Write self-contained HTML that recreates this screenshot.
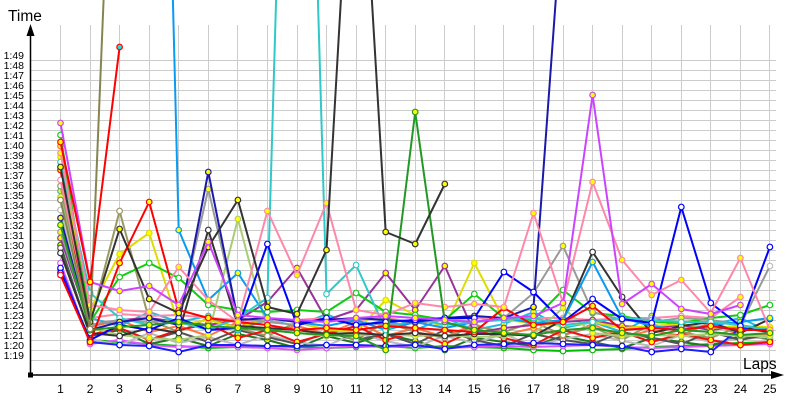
<!DOCTYPE html>
<html><head><meta charset="utf-8"><style>
html,body{margin:0;padding:0;background:#fff;}
svg{display:block;}
text{font-family:"Liberation Sans",Arial,sans-serif;fill:#000;}
.yl{font-size:10.5px;text-anchor:end;}
.xl{font-size:12px;text-anchor:middle;}
polyline{fill:none;stroke-width:2;stroke-linejoin:round;}
</style></head><body>
<svg width="800" height="400" viewBox="0 0 800 400" xmlns="http://www.w3.org/2000/svg">
<defs>
<marker id="mRy" viewBox="0 0 8 8" refX="4" refY="4" markerWidth="8" markerHeight="8" markerUnits="userSpaceOnUse"><circle cx="4" cy="4" r="2.8" fill="#ffff00" stroke="#ff0000" stroke-width="1.2"/></marker>
<marker id="mRc" viewBox="0 0 8 8" refX="4" refY="4" markerWidth="8" markerHeight="8" markerUnits="userSpaceOnUse"><circle cx="4" cy="4" r="2.8" fill="#22dddd" stroke="#ff0000" stroke-width="1.2"/></marker>
<marker id="mRw" viewBox="0 0 8 8" refX="4" refY="4" markerWidth="8" markerHeight="8" markerUnits="userSpaceOnUse"><circle cx="4" cy="4" r="2.8" fill="#fff" stroke="#ff0000" stroke-width="1.2"/></marker>
<marker id="mOl" viewBox="0 0 8 8" refX="4" refY="4" markerWidth="8" markerHeight="8" markerUnits="userSpaceOnUse"><circle cx="4" cy="4" r="2.8" fill="#fff" stroke="#858550" stroke-width="1.2"/></marker>
<marker id="mLb" viewBox="0 0 8 8" refX="4" refY="4" markerWidth="8" markerHeight="8" markerUnits="userSpaceOnUse"><circle cx="4" cy="4" r="2.8" fill="#ffff00" stroke="#0a9af0" stroke-width="1.2"/></marker>
<marker id="mCy" viewBox="0 0 8 8" refX="4" refY="4" markerWidth="8" markerHeight="8" markerUnits="userSpaceOnUse"><circle cx="4" cy="4" r="2.8" fill="#fff" stroke="#30c8c8" stroke-width="1.2"/></marker>
<marker id="mBky" viewBox="0 0 8 8" refX="4" refY="4" markerWidth="8" markerHeight="8" markerUnits="userSpaceOnUse"><circle cx="4" cy="4" r="2.8" fill="#ffff00" stroke="#333" stroke-width="1.2"/></marker>
<marker id="mBkw" viewBox="0 0 8 8" refX="4" refY="4" markerWidth="8" markerHeight="8" markerUnits="userSpaceOnUse"><circle cx="4" cy="4" r="2.8" fill="#fff" stroke="#333" stroke-width="1.2"/></marker>
<marker id="mFo" viewBox="0 0 8 8" refX="4" refY="4" markerWidth="8" markerHeight="8" markerUnits="userSpaceOnUse"><circle cx="4" cy="4" r="2.8" fill="#ffff00" stroke="#229922" stroke-width="1.2"/></marker>
<marker id="mMg" viewBox="0 0 8 8" refX="4" refY="4" markerWidth="8" markerHeight="8" markerUnits="userSpaceOnUse"><circle cx="4" cy="4" r="2.8" fill="#ffff00" stroke="#cc44ff" stroke-width="1.2"/></marker>
<marker id="mPk" viewBox="0 0 8 8" refX="4" refY="4" markerWidth="8" markerHeight="8" markerUnits="userSpaceOnUse"><circle cx="4" cy="4" r="2.8" fill="#ffff00" stroke="#ff88aa" stroke-width="1.2"/></marker>
<marker id="mPk2" viewBox="0 0 8 8" refX="4" refY="4" markerWidth="8" markerHeight="8" markerUnits="userSpaceOnUse"><circle cx="4" cy="4" r="2.8" fill="#fff" stroke="#ff88aa" stroke-width="1.2"/></marker>
<marker id="mBl" viewBox="0 0 8 8" refX="4" refY="4" markerWidth="8" markerHeight="8" markerUnits="userSpaceOnUse"><circle cx="4" cy="4" r="2.8" fill="#fff" stroke="#0000ff" stroke-width="1.2"/></marker>
<marker id="mNv" viewBox="0 0 8 8" refX="4" refY="4" markerWidth="8" markerHeight="8" markerUnits="userSpaceOnUse"><circle cx="4" cy="4" r="2.8" fill="#ffff00" stroke="#1a1aaa" stroke-width="1.2"/></marker>
<marker id="mGy" viewBox="0 0 8 8" refX="4" refY="4" markerWidth="8" markerHeight="8" markerUnits="userSpaceOnUse"><circle cx="4" cy="4" r="2.8" fill="#ffff00" stroke="#999" stroke-width="1.2"/></marker>
<marker id="mPu" viewBox="0 0 8 8" refX="4" refY="4" markerWidth="8" markerHeight="8" markerUnits="userSpaceOnUse"><circle cx="4" cy="4" r="2.8" fill="#ffff00" stroke="#993399" stroke-width="1.2"/></marker>
<marker id="mYe" viewBox="0 0 8 8" refX="4" refY="4" markerWidth="8" markerHeight="8" markerUnits="userSpaceOnUse"><circle cx="4" cy="4" r="2.8" fill="#ffff00" stroke="#dddd00" stroke-width="1.2"/></marker>
<marker id="mYg" viewBox="0 0 8 8" refX="4" refY="4" markerWidth="8" markerHeight="8" markerUnits="userSpaceOnUse"><circle cx="4" cy="4" r="2.8" fill="#ffff00" stroke="#aacc77" stroke-width="1.2"/></marker>
<marker id="mGr" viewBox="0 0 8 8" refX="4" refY="4" markerWidth="8" markerHeight="8" markerUnits="userSpaceOnUse"><circle cx="4" cy="4" r="2.8" fill="#fff" stroke="#11cc11" stroke-width="1.2"/></marker>
<marker id="mGr2" viewBox="0 0 8 8" refX="4" refY="4" markerWidth="8" markerHeight="8" markerUnits="userSpaceOnUse"><circle cx="4" cy="4" r="2.8" fill="#fff" stroke="#00bb00" stroke-width="1.2"/></marker>
<marker id="mMg2" viewBox="0 0 8 8" refX="4" refY="4" markerWidth="8" markerHeight="8" markerUnits="userSpaceOnUse"><circle cx="4" cy="4" r="2.8" fill="#fff" stroke="#dd55ff" stroke-width="1.2"/></marker>
<marker id="mDg" viewBox="0 0 8 8" refX="4" refY="4" markerWidth="8" markerHeight="8" markerUnits="userSpaceOnUse"><circle cx="4" cy="4" r="2.8" fill="#ffff00" stroke="#227722" stroke-width="1.2"/></marker>
<marker id="mSv" viewBox="0 0 8 8" refX="4" refY="4" markerWidth="8" markerHeight="8" markerUnits="userSpaceOnUse"><circle cx="4" cy="4" r="2.8" fill="#fff" stroke="#bbbbbb" stroke-width="1.2"/></marker>
<marker id="mKh" viewBox="0 0 8 8" refX="4" refY="4" markerWidth="8" markerHeight="8" markerUnits="userSpaceOnUse"><circle cx="4" cy="4" r="2.8" fill="#fff" stroke="#999966" stroke-width="1.2"/></marker>
<marker id="mTe" viewBox="0 0 8 8" refX="4" refY="4" markerWidth="8" markerHeight="8" markerUnits="userSpaceOnUse"><circle cx="4" cy="4" r="2.8" fill="#ffff00" stroke="#22bbdd" stroke-width="1.2"/></marker>
<marker id="mOr" viewBox="0 0 8 8" refX="4" refY="4" markerWidth="8" markerHeight="8" markerUnits="userSpaceOnUse"><circle cx="4" cy="4" r="2.8" fill="#ffff00" stroke="#ff7744" stroke-width="1.2"/></marker>
<marker id="mDk" viewBox="0 0 8 8" refX="4" refY="4" markerWidth="8" markerHeight="8" markerUnits="userSpaceOnUse"><circle cx="4" cy="4" r="2.8" fill="#fff" stroke="#555" stroke-width="1.2"/></marker>
</defs>

<!-- grid -->
<g stroke="#cccccc" stroke-width="1">
<line x1="60.5" y1="25" x2="60.5" y2="375"/><line x1="90.5" y1="25" x2="90.5" y2="375"/><line x1="119.5" y1="25" x2="119.5" y2="375"/><line x1="149.5" y1="25" x2="149.5" y2="375"/><line x1="178.5" y1="25" x2="178.5" y2="375"/><line x1="208.5" y1="25" x2="208.5" y2="375"/><line x1="237.5" y1="25" x2="237.5" y2="375"/><line x1="267.5" y1="25" x2="267.5" y2="375"/><line x1="297.5" y1="25" x2="297.5" y2="375"/><line x1="326.5" y1="25" x2="326.5" y2="375"/><line x1="356.5" y1="25" x2="356.5" y2="375"/><line x1="385.5" y1="25" x2="385.5" y2="375"/><line x1="415.5" y1="25" x2="415.5" y2="375"/><line x1="444.5" y1="25" x2="444.5" y2="375"/><line x1="474.5" y1="25" x2="474.5" y2="375"/><line x1="503.5" y1="25" x2="503.5" y2="375"/><line x1="533.5" y1="25" x2="533.5" y2="375"/><line x1="563.5" y1="25" x2="563.5" y2="375"/><line x1="592.5" y1="25" x2="592.5" y2="375"/><line x1="622.5" y1="25" x2="622.5" y2="375"/><line x1="651.5" y1="25" x2="651.5" y2="375"/><line x1="681.5" y1="25" x2="681.5" y2="375"/><line x1="710.5" y1="25" x2="710.5" y2="375"/><line x1="740.5" y1="25" x2="740.5" y2="375"/><line x1="769.5" y1="25" x2="769.5" y2="375"/>
<line x1="31" y1="60.5" x2="776" y2="60.5"/><line x1="31" y1="70.5" x2="776" y2="70.5"/><line x1="31" y1="80.5" x2="776" y2="80.5"/><line x1="31" y1="90.5" x2="776" y2="90.5"/><line x1="31" y1="100.5" x2="776" y2="100.5"/><line x1="31" y1="110.5" x2="776" y2="110.5"/><line x1="31" y1="120.5" x2="776" y2="120.5"/><line x1="31" y1="130.5" x2="776" y2="130.5"/><line x1="31" y1="140.5" x2="776" y2="140.5"/><line x1="31" y1="150.5" x2="776" y2="150.5"/><line x1="31" y1="160.5" x2="776" y2="160.5"/><line x1="31" y1="170.5" x2="776" y2="170.5"/><line x1="31" y1="180.5" x2="776" y2="180.5"/><line x1="31" y1="190.5" x2="776" y2="190.5"/><line x1="31" y1="200.5" x2="776" y2="200.5"/><line x1="31" y1="210.5" x2="776" y2="210.5"/><line x1="31" y1="220.5" x2="776" y2="220.5"/><line x1="31" y1="230.5" x2="776" y2="230.5"/><line x1="31" y1="240.5" x2="776" y2="240.5"/><line x1="31" y1="250.5" x2="776" y2="250.5"/><line x1="31" y1="260.5" x2="776" y2="260.5"/><line x1="31" y1="270.5" x2="776" y2="270.5"/><line x1="31" y1="280.5" x2="776" y2="280.5"/><line x1="31" y1="290.5" x2="776" y2="290.5"/><line x1="31" y1="300.5" x2="776" y2="300.5"/><line x1="31" y1="310.5" x2="776" y2="310.5"/><line x1="31" y1="320.5" x2="776" y2="320.5"/><line x1="31" y1="330.5" x2="776" y2="330.5"/><line x1="31" y1="340.5" x2="776" y2="340.5"/><line x1="31" y1="350.5" x2="776" y2="350.5"/><line x1="31" y1="360.5" x2="776" y2="360.5"/>
</g>

<!-- y labels -->
<g class="yl">
<text x="24" y="59">1:49</text><text x="24" y="69">1:48</text><text x="24" y="79">1:47</text><text x="24" y="89">1:46</text><text x="24" y="99">1:45</text><text x="24" y="109">1:44</text><text x="24" y="119">1:43</text><text x="24" y="129">1:42</text><text x="24" y="139">1:41</text><text x="24" y="149">1:40</text><text x="24" y="159">1:39</text><text x="24" y="169">1:38</text><text x="24" y="179">1:37</text><text x="24" y="189">1:36</text><text x="24" y="199">1:35</text><text x="24" y="209">1:34</text><text x="24" y="219">1:33</text><text x="24" y="229">1:32</text><text x="24" y="239">1:31</text><text x="24" y="249">1:30</text><text x="24" y="259">1:29</text><text x="24" y="269">1:28</text><text x="24" y="279">1:27</text><text x="24" y="289">1:26</text><text x="24" y="299">1:25</text><text x="24" y="309">1:24</text><text x="24" y="319">1:23</text><text x="24" y="329">1:22</text><text x="24" y="339">1:21</text><text x="24" y="349">1:20</text><text x="24" y="359">1:19</text>
</g>

<!-- x labels -->
<g class="xl">
<text x="60.5" y="393">1</text><text x="90.1" y="393">2</text><text x="119.6" y="393">3</text><text x="149.2" y="393">4</text><text x="178.7" y="393">5</text><text x="208.3" y="393">6</text><text x="237.9" y="393">7</text><text x="267.4" y="393">8</text><text x="297" y="393">9</text><text x="326.5" y="393">10</text><text x="356.1" y="393">11</text><text x="385.7" y="393">12</text><text x="415.2" y="393">13</text><text x="444.8" y="393">14</text><text x="474.3" y="393">15</text><text x="503.9" y="393">16</text><text x="533.5" y="393">17</text><text x="563" y="393">18</text><text x="592.6" y="393">19</text><text x="622.1" y="393">20</text><text x="651.7" y="393">21</text><text x="681.3" y="393">22</text><text x="710.8" y="393">23</text><text x="740.4" y="393">24</text><text x="769.9" y="393">25</text>
</g>

<text x="8" y="21" style="font-size:15.5px">Time</text>
<text x="743" y="369" style="font-size:15.5px">Laps</text>

<!-- series -->
<polyline stroke="#00bb00" marker-start="url(#mGr2)" marker-mid="url(#mGr2)" marker-end="url(#mGr2)" points="60.5,270 90.1,340 119.6,342 149.2,344 178.7,346 208.3,348 237.9,347 267.4,346 297,347 326.5,348 356.1,347 385.7,346 415.2,348 444.8,346 474.3,347 503.9,348 533.5,350 563,351 592.6,350 622.1,349 651.7,347 681.3,346 710.8,344 740.4,343 769.9,342"/>
<polyline stroke="#dd55ff" marker-start="url(#mMg2)" marker-mid="url(#mMg2)" marker-end="url(#mMg2)" points="60.5,263 90.1,344 119.6,340 149.2,345 178.7,347 208.3,346 237.9,347 267.4,348 297,350 326.5,348 356.1,346 385.7,347 415.2,346 444.8,348 474.3,347 503.9,346 533.5,347 563,346 592.6,345 622.1,347 651.7,348 681.3,347 710.8,346 740.4,345 769.9,344"/>
<polyline stroke="#227722" marker-start="url(#mDg)" marker-mid="url(#mDg)" marker-end="url(#mDg)" points="60.5,245 90.1,336 119.6,330 149.2,344 178.7,338 208.3,346 237.9,334 267.4,340 297,348 326.5,336 356.1,343 385.7,334 415.2,341 444.8,350 474.3,338 503.9,342 533.5,346 563,336 592.6,342 622.1,348 651.7,338 681.3,342 710.8,346 740.4,336 769.9,339"/>
<polyline stroke="#bbbbbb" marker-start="url(#mSv)" marker-mid="url(#mSv)" marker-end="url(#mSv)" points="60.5,210 90.1,339 119.6,345 149.2,333 178.7,343 208.3,337 237.9,345 267.4,335 297,342 326.5,346 356.1,333 385.7,341 415.2,347 444.8,336 474.3,343 503.9,334 533.5,346 563,339 592.6,334 622.1,341 651.7,346 681.3,335 710.8,342 740.4,339 769.9,337"/>
<polyline stroke="#555" marker-start="url(#mDk)" marker-mid="url(#mDk)" marker-end="url(#mDk)" points="60.5,248 90.1,335 119.6,328 149.2,340 178.7,332 208.3,342 237.9,330 267.4,337 297,344 326.5,332 356.1,340 385.7,334 415.2,344 444.8,330 474.3,340 503.9,346 533.5,334 563,340 592.6,344 622.1,332 651.7,338 681.3,344 710.8,332 740.4,340 769.9,334"/>
<polyline stroke="#ff7744" marker-start="url(#mOr)" marker-mid="url(#mOr)" marker-end="url(#mOr)" points="60.5,146 90.1,327 119.6,320 149.2,332 178.7,326 208.3,336 237.9,322 267.4,332 297,326 326.5,334 356.1,322 385.7,336 415.2,328 444.8,337 474.3,324 503.9,335 533.5,328 563,336 592.6,324 622.1,338 651.7,330 681.3,336 710.8,322 740.4,336 769.9,335"/>
<polyline stroke="#22bbdd" marker-start="url(#mTe)" marker-mid="url(#mTe)" marker-end="url(#mTe)" points="60.5,191 90.1,318 119.6,326 149.2,312 178.7,322 208.3,316 237.9,330 267.4,320 297,326 326.5,314 356.1,327 385.7,320 415.2,330 444.8,318 474.3,330 503.9,324 533.5,312 563,328 592.6,322 622.1,332 651.7,316 681.3,329 710.8,325 740.4,318 769.9,332"/>
<polyline stroke="#999966" marker-start="url(#mKh)" marker-mid="url(#mKh)" marker-end="url(#mKh)" points="60.5,186 90.1,324 119.6,211 149.2,320 178.7,332 208.3,318 237.9,328 267.4,336 297,322 326.5,330 356.1,340 385.7,322 415.2,332 444.8,338 474.3,326 503.9,332 533.5,322 563,335 592.6,327 622.1,340 651.7,324 681.3,332 710.8,338 740.4,326 769.9,331"/>
<polyline stroke="#ee1111" marker-start="url(#mRy)" marker-mid="url(#mRy)" marker-end="url(#mRy)" points="60.5,170 90.1,335 119.6,328 149.2,340 178.7,330 208.3,324 237.9,338 267.4,330 297,342 326.5,334 356.1,326 385.7,340 415.2,332 444.8,344 474.3,330 503.9,338 533.5,345 563,330 592.6,338 622.1,332 651.7,342 681.3,334 710.8,340 740.4,345 769.9,342"/>
<polyline stroke="#2020ff" marker-start="url(#mBl)" marker-mid="url(#mBl)" marker-end="url(#mBl)" points="60.5,268 90.1,342 119.6,345 149.2,346 178.7,352 208.3,345 237.9,345 267.4,346 297,346 326.5,345 356.1,345 385.7,346 415.2,345 444.8,349 474.3,345 503.9,344 533.5,343 563,344 592.6,345 622.1,346 651.7,352 681.3,349 710.8,352 740.4,328 769.9,332"/>
<polyline stroke="#ff88aa" marker-start="url(#mPk2)" marker-mid="url(#mPk2)" marker-end="url(#mPk)" points="60.5,180 90.1,318 119.6,314 149.2,316 178.7,315 208.3,318 237.9,320 267.4,322 297,320 326.5,318 356.1,320 385.7,318 415.2,322 444.8,320 474.3,318 503.9,320 533.5,318 563,318 592.6,320 622.1,318 651.7,318 681.3,316 710.8,318 740.4,297"/>
<polyline stroke="#aacc77" marker-start="url(#mYg)" marker-mid="url(#mYg)" marker-end="url(#mYg)" points="60.5,197 90.1,328 119.6,335 149.2,338 178.7,340 208.3,335 237.9,219 267.4,330 297,333 326.5,336 356.1,335 385.7,334 415.2,336 444.8,335 474.3,337 503.9,336 533.5,334 563,308 592.6,333 622.1,336 651.7,335 681.3,336 710.8,334 740.4,336 769.9,336"/>
<polyline stroke="#993399" marker-start="url(#mPu)" marker-mid="url(#mPu)" marker-end="url(#mPu)" points="60.5,238 90.1,325 119.6,320 149.2,318 178.7,322 208.3,325 237.9,320 267.4,302 297,268 326.5,320 356.1,310 385.7,273 415.2,310 444.8,266 474.3,333 503.9,328 533.5,325 563,322 592.6,320 622.1,326 651.7,328 681.3,325 710.8,330 740.4,326 769.9,328"/>
<polyline stroke="#dddd00" marker-start="url(#mYe)" marker-mid="url(#mYe)" marker-end="url(#mYe)" points="60.5,157 90.1,310 119.6,254 149.2,233 178.7,325 208.3,320 237.9,328 267.4,318 297,322 326.5,330 356.1,332 385.7,300 415.2,315 444.8,328 474.3,263 503.9,320 533.5,323 563,326 592.6,322 622.1,328 651.7,326 681.3,324 710.8,328 740.4,326 769.9,327"/>
<polyline stroke="#11cc11" marker-start="url(#mGr)" marker-mid="url(#mGr)" marker-end="url(#mGr)" points="60.5,135 90.1,322 119.6,277 149.2,263 178.7,278 208.3,305 237.9,310 267.4,312 297,310 326.5,312 356.1,293 385.7,312 415.2,315 444.8,320 474.3,294 503.9,318 533.5,320 563,290 592.6,313 622.1,316 651.7,322 681.3,323 710.8,318 740.4,315 769.9,305"/>
<polyline stroke="#999999" marker-start="url(#mGy)" marker-mid="url(#mGy)" marker-end="url(#mSv)" points="60.5,232 90.1,325 119.6,320 149.2,322 178.7,320 208.3,189 237.9,318 267.4,322 297,325 326.5,320 356.1,322 385.7,325 415.2,323 444.8,320 474.3,322 503.9,318 533.5,293 563,246 592.6,312 622.1,320 651.7,322 681.3,318 710.8,320 740.4,325 769.9,266"/>
<polyline stroke="#333333" marker-start="url(#mBkw)" marker-mid="url(#mBkw)" marker-end="url(#mBkw)" points="60.5,253 90.1,333 119.6,336 149.2,328 178.7,333 208.3,230 237.9,326 267.4,328 297,330 326.5,334 356.1,333 385.7,335 415.2,333 444.8,336 474.3,334 503.9,334 533.5,336 563,320 592.6,252 622.1,297 651.7,333 681.3,326 710.8,322 740.4,333 769.9,319"/>
<polyline stroke="#0a9af0" marker-start="url(#mLb)" marker-mid="url(#mLb)" marker-end="url(#mLb)" points="149.2,-940 178.7,230 208.3,300 237.9,273 267.4,318 297,322 326.5,326 356.1,320 385.7,330 415.2,322 444.8,328 474.3,322 503.9,318 533.5,323 563,320 592.6,262 622.1,318 651.7,326 681.3,330 710.8,325 740.4,322 769.9,318"/>
<polyline stroke="#30c8c8" marker-start="url(#mCy)" marker-mid="url(#mCy)" marker-end="url(#mCy)" points="60.5,162 90.1,293 119.6,318 149.2,325 178.7,322 208.3,330 237.9,318 267.4,298 297,-718 326.5,294 356.1,265 385.7,330 415.2,318 444.8,325 474.3,322 503.9,320 533.5,318 563,325 592.6,322 622.1,318 651.7,320 681.3,322 710.8,322 740.4,325 769.9,330"/>
<polyline stroke="#1a1aaa" marker-start="url(#mNv)" marker-mid="url(#mNv)" marker-end="url(#mNv)" points="60.5,218 90.1,330 119.6,322 149.2,318 178.7,325 208.3,172 237.9,320 267.4,318 297,322 326.5,320 356.1,318 385.7,320 415.2,322 444.8,318 474.3,316 503.9,318 533.5,307 563,-100"/>
<polyline stroke="#0000ff" marker-start="url(#mBl)" marker-mid="url(#mBl)" marker-end="url(#mBl)" points="60.5,273 90.1,340 119.6,325 149.2,330 178.7,318 208.3,330 237.9,328 267.4,244 297,325 326.5,318 356.1,325 385.7,322 415.2,320 444.8,318 474.3,318 503.9,272 533.5,292 563,322 592.6,299 622.1,319 651.7,323 681.3,207 710.8,303 740.4,326 769.9,247"/>
<polyline stroke="#ff0000" marker-start="url(#mRw)" marker-mid="url(#mRy)" marker-end="url(#mRy)" points="60.5,275 90.1,342 119.6,263 149.2,202 178.7,310 208.3,318 237.9,322 267.4,325 297,330 326.5,328 356.1,330 385.7,326 415.2,328 444.8,330 474.3,332 503.9,308 533.5,325 563,322 592.6,306 622.1,330 651.7,328 681.3,330 710.8,326 740.4,330 769.9,330"/>
<polyline stroke="#ff88aa" marker-start="url(#mPk)" marker-mid="url(#mPk)" marker-end="url(#mPk)" points="60.5,153 90.1,305 119.6,310 149.2,312 178.7,267 208.3,300 237.9,322 267.4,211 297,275 326.5,203 356.1,310 385.7,315 415.2,303 444.8,307 474.3,304 503.9,307 533.5,213 563,303 592.6,182 622.1,260 651.7,295 681.3,280 710.8,313 740.4,258 769.9,330"/>
<polyline stroke="#229922" marker-start="url(#mFo)" marker-mid="url(#mFo)" marker-end="url(#mFo)" points="60.5,225 90.1,330 119.6,327 149.2,325 178.7,322 208.3,326 237.9,328 267.4,330 297,333 326.5,335 356.1,336 385.7,350 415.2,112 444.8,322 474.3,330 503.9,333 533.5,335 563,330 592.6,328 622.1,333 651.7,336 681.3,330 710.8,332 740.4,335 769.9,333"/>
<polyline stroke="#333333" marker-start="url(#mBky)" marker-mid="url(#mBky)" marker-end="url(#mBky)" points="60.5,167 90.1,322 119.6,229 149.2,299 178.7,313 208.3,247 237.9,200 267.4,307 297,314 326.5,250 356.1,-265 385.7,232 415.2,244 444.8,184"/>
<polyline stroke="#cc44ff" marker-start="url(#mMg)" marker-mid="url(#mMg)" marker-end="url(#mMg)" points="60.5,123 90.1,282 119.6,291 149.2,286 178.7,305 208.3,242 237.9,315 267.4,318 297,320 326.5,322 356.1,318 385.7,316 415.2,318 444.8,320 474.3,322 503.9,318 533.5,316 563,303 592.6,95 622.1,304 651.7,284 681.3,309 710.8,314 740.4,305"/>
<polyline stroke="#858550" marker-start="url(#mOl)" marker-mid="url(#mOl)" marker-end="url(#mOl)" points="60.5,200 90.1,329 119.6,-391"/>
<polyline stroke="#ff0000" marker-start="url(#mRy)" marker-mid="url(#mRy)" marker-end="url(#mRc)" points="60.5,142 90.1,282 119.6,47"/>

<!-- axes -->
<g stroke="#000" stroke-width="1.5" fill="none">
<line x1="30.5" y1="375" x2="30.5" y2="32"/>
<line x1="30.5" y1="375" x2="774" y2="375"/>
</g>
<polygon points="30.5,24 26.5,36 34.5,36" fill="#000"/>
<polygon points="784,375 771,371 771,379" fill="#000"/>
<rect x="28" y="372.5" width="5" height="5" fill="#000"/>
</svg>
</body></html>
